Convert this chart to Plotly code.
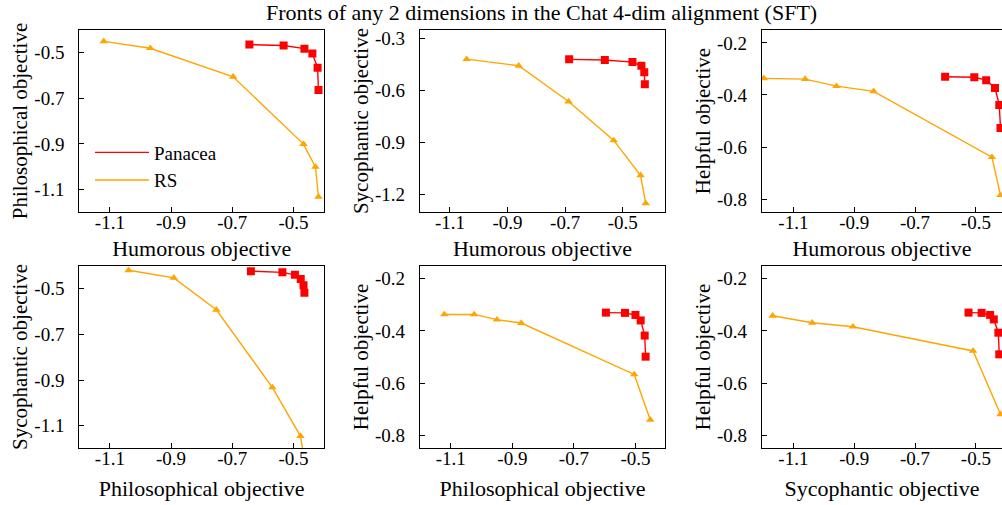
import plotly.graph_objects as go

TITLE = "Fronts of any 2 dimensions in the Chat 4-dim alignment (SFT)"
SERIES = ["Panacea", "RS"]

# Panel 1: Humorous (x) vs Philosophical (y)
p1_pan_x = [-0.644, -0.532, -0.464, -0.438, -0.421, -0.418]
p1_pan_y = [-0.465, -0.469, -0.483, -0.504, -0.567, -0.664]
p1_rs_x = [-1.120, -0.968, -0.697, -0.467, -0.428, -0.418]
p1_rs_y = [-0.451, -0.481, -0.606, -0.901, -1.001, -1.132]

# Panel 2: Humorous (x) vs Sycophantic (y)
p2_pan_x = [-0.686, -0.562, -0.466, -0.435, -0.425, -0.423]
p2_pan_y = [-0.420, -0.424, -0.436, -0.457, -0.495, -0.564]
p2_rs_x = [-1.042, -0.861, -0.688, -0.531, -0.438, -0.420]
p2_rs_y = [-0.419, -0.457, -0.663, -0.887, -1.088, -1.250]

# Panel 3: Humorous (x) vs Helpful (y)
p3_pan_x = [-0.601, -0.505, -0.466, -0.437, -0.423, -0.419]
p3_pan_y = [-0.330, -0.332, -0.343, -0.373, -0.438, -0.527]
p3_rs_x = [-1.197, -1.061, -0.958, -0.836, -0.447, -0.419]
p3_rs_y = [-0.336, -0.339, -0.366, -0.386, -0.639, -0.785]

# Panel 4: Philosophical (x) vs Sycophantic (y)
p4_pan_x = [-0.639, -0.536, -0.495, -0.476, -0.467, -0.464]
p4_pan_y = [-0.423, -0.428, -0.439, -0.457, -0.484, -0.517]
p4_rs_x = [-1.039, -0.891, -0.752, -0.569, -0.477, -0.464]
p4_rs_y = [-0.419, -0.452, -0.592, -0.932, -1.145, -1.250]

# Panel 5: Philosophical (x) vs Helpful (y)
p5_pan_x = [-0.596, -0.534, -0.500, -0.483, -0.470, -0.467]
p5_pan_y = [-0.330, -0.331, -0.339, -0.360, -0.418, -0.499]
p5_rs_x = [-1.121, -1.024, -0.950, -0.871, -0.504, -0.452]
p5_rs_y = [-0.337, -0.337, -0.357, -0.370, -0.567, -0.741]

# Panel 6: Sycophantic (x) vs Helpful (y)
p6_pan_x = [-0.524, -0.481, -0.453, -0.441, -0.426, -0.423]
p6_pan_y = [-0.330, -0.331, -0.339, -0.356, -0.407, -0.490]
p6_rs_x = [-1.168, -1.038, -0.904, -0.509, -0.419]
p6_rs_y = [-0.342, -0.369, -0.384, -0.477, -0.720]

# Axis titles
x_titles = ["Humorous objective", "Humorous objective", "Humorous objective",
            "Philosophical objective", "Philosophical objective", "Sycophantic objective"]
y_titles = ["Philosophical objective", "Sycophantic objective", "Helpful objective",
            "Sycophantic objective", "Helpful objective", "Helpful objective"]

# Tick labels
x_tickvals = [-1.1, -0.9, -0.7, -0.5]
x_ticktext = ["-1.1", "-0.9", "-0.7", "-0.5"]
y_tickvals_a = [-0.5, -0.7, -0.9, -1.1]
y_ticktext_a = ["-0.5", "-0.7", "-0.9", "-1.1"]
y_tickvals_b = [-0.3, -0.6, -0.9, -1.2]
y_ticktext_b = ["-0.3", "-0.6", "-0.9", "-1.2"]
y_tickvals_c = [-0.2, -0.4, -0.6, -0.8]
y_ticktext_c = ["-0.2", "-0.4", "-0.6", "-0.8"]

RED = "#ff0000"
ORANGE = "#ffa500"
FONT = "Liberation Serif, Times New Roman, serif"

W, H = 1002, 505
col_px = [(79.3, 324.0), (420.0, 665.0), (762.0, 1002.0)]
row_px = [(28.3, 210.7), (265.0, 447.7)]
row_title_standoff = [8, 12]

panels = [
    (p1_pan_x, p1_pan_y, p1_rs_x, p1_rs_y, [-1.2, -0.4], [-1.198, -0.402], y_tickvals_a, y_ticktext_a),
    (p2_pan_x, p2_pan_y, p2_rs_x, p2_rs_y, [-1.204, -0.353], [-1.299, -0.252], y_tickvals_b, y_ticktext_b),
    (p3_pan_x, p3_pan_y, p3_rs_x, p3_rs_y, [-1.203, -0.414], [-0.849, -0.151], y_tickvals_c, y_ticktext_c),
    (p4_pan_x, p4_pan_y, p4_rs_x, p4_rs_y, [-1.2, -0.4], [-1.197, -0.400], y_tickvals_a, y_ticktext_a),
    (p5_pan_x, p5_pan_y, p5_rs_x, p5_rs_y, [-1.2, -0.404], [-0.849, -0.151], y_tickvals_c, y_ticktext_c),
    (p6_pan_x, p6_pan_y, p6_rs_x, p6_rs_y, [-1.203, -0.414], [-0.849, -0.151], y_tickvals_c, y_ticktext_c),
]

fig = go.Figure()
layout = {}
for i, (px_, py_, rx_, ry_, xr, yr, ytv, ytt) in enumerate(panels):
    r, c = divmod(i, 3)
    n = i + 1
    xa = "x" if n == 1 else f"x{n}"
    ya = "y" if n == 1 else f"y{n}"
    fig.add_trace(go.Scatter(x=px_, y=py_, xaxis=xa, yaxis=ya, mode="lines+markers",
                             line=dict(color=RED, width=1.4),
                             marker=dict(symbol="square", size=8, color=RED),
                             showlegend=False, name=SERIES[0]))
    fig.add_trace(go.Scatter(x=rx_, y=ry_, xaxis=xa, yaxis=ya, mode="lines+markers",
                             line=dict(color=ORANGE, width=1.4),
                             marker=dict(symbol="triangle-up", size=7.5, color=ORANGE),
                             showlegend=False, name=SERIES[1]))
    x0, x1 = col_px[c]
    y0, y1 = row_px[r]
    right_cut = (c == 2)
    common = dict(showgrid=False, zeroline=False, showline=True, linecolor="black",
                  linewidth=1.2, ticks="inside", ticklen=5, tickwidth=1.2,
                  tickcolor="black", tickfont=dict(family=FONT, size=19, color="black"))
    layout["xaxis" if n == 1 else f"xaxis{n}"] = dict(
        domain=[x0 / W, x1 / W], anchor=ya, range=xr, mirror=True,
        tickmode="array", tickvals=x_tickvals, ticktext=x_ticktext,
        title=dict(text=x_titles[i], font=dict(family=FONT, size=22, color="black"),
                   standoff=row_title_standoff[r]),
        ticklabelstandoff=-7, **common)
    layout["yaxis" if n == 1 else f"yaxis{n}"] = dict(
        domain=[1 - y1 / H, 1 - y0 / H], anchor=xa, range=yr, mirror=not right_cut,
        tickmode="array", tickvals=ytv, ticktext=ytt,
        title=dict(text=y_titles[i], font=dict(family=FONT, size=21, color="black"), standoff=0),
        ticklabelstandoff=10, **common)

# legend entries (line only)
fig.add_trace(go.Scatter(x=[None], y=[None], mode="lines", name=SERIES[0],
                         line=dict(color=RED, width=1.4)))
fig.add_trace(go.Scatter(x=[None], y=[None], mode="lines", name=SERIES[1],
                         line=dict(color=ORANGE, width=1.4)))

fig.update_layout(
    width=W, height=H,
    margin=dict(l=0, r=0, t=0, b=0),
    paper_bgcolor="white", plot_bgcolor="white",
    font=dict(family=FONT, size=19, color="black"),
    title=dict(text=TITLE, x=0.5405, xanchor="center", y=1 - 12 / H, yanchor="middle",
               font=dict(family=FONT, size=22, color="black")),
    legend=dict(x=90 / W, y=1 - 132 / H, xanchor="left", yanchor="top", itemwidth=54,
                bgcolor="rgba(0,0,0,0)", font=dict(family=FONT, size=19, color="black")),
    **layout,
)

fig.write_html("out.html", config={"displayModeBar": False},
               post_script="document.body.style.margin='0';")
